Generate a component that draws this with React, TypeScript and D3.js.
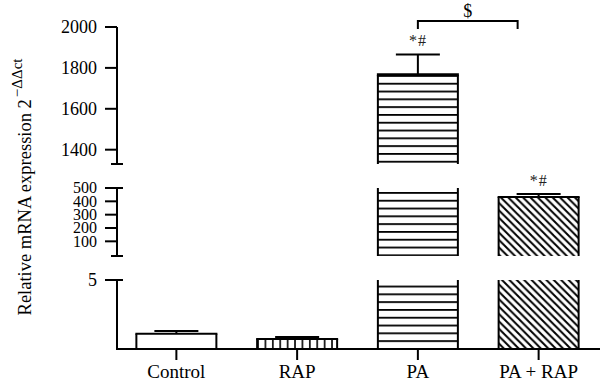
import React, { useEffect } from 'react';
import * as d3 from 'd3';

// groups and measured values (mean, upper error)
const groups = ['Control', 'RAP', 'PA', 'PA + RAP'];
const means = [1.1, 0.72, 1766, 432];
const errors = [0.2, 0.15, 100, 23];
const marks = ['', '', '*#', '*#'];

// broken y axis: three value windows, top to bottom
const segDomains: [number, number][] = [[1330, 2000], [-10, 500], [0, 5]];
const segTicks = [[1400, 1600, 1800, 2000], [100, 200, 300, 400, 500], [5]];

const W = 600;
const H = 390;
const axisX = 117;
const segRanges: [number, number][] = [[164, 27], [256, 188], [349, 280]];
const font = '"Liberation Serif", "Times New Roman", serif';

const x = d3.scalePoint<string>().domain(groups).range([116, 599]).padding(0.5);
const barW = 80;
const capW = 44;

const scales = segDomains.map((d, i) => d3.scaleLinear().domain(d).range(segRanges[i]));
const patterns = ['none', 'url(#vert)', 'url(#horiz)', 'url(#diag)'];

const App: React.FC = () => {
  useEffect(() => {
    document.body.style.margin = '0';
  }, []);

  return (
    <svg width={W} height={H} style={{ display: 'block', background: '#fff' }} fontFamily={font}>
      <defs>
        <pattern id="horiz" patternUnits="userSpaceOnUse" x={0} y={75} width={10} height={7.8}>
          <line x1={0} x2={10} y1={0.9} y2={0.9} stroke="#000" strokeWidth={1.8} />
        </pattern>
        <pattern id="vert" patternUnits="userSpaceOnUse" x={x('RAP')! - barW / 2} y={0} width={7.4} height={10}>
          <line x1={0.9} x2={0.9} y1={0} y2={10} stroke="#000" strokeWidth={1.6} />
        </pattern>
        <pattern id="diag" patternUnits="userSpaceOnUse" x={0} y={0} width={7.4} height={7.4}>
          <path d="M-1,-1 L8.4,8.4 M-1,6.4 L1,8.4 M6.4,-1 L8.4,1" stroke="#000" strokeWidth={2} />
        </pattern>
      </defs>

      {/* bars, drawn piecewise in each axis window */}
      {groups.map((g, gi) => {
        const cx = x(g)!;
        const x0 = cx - barW / 2;
        const x1 = cx + barW / 2;
        const v = means[gi];
        // the bottom window owns small values, others only values above them
        const ownSeg = v <= 5 ? 2 : segDomains.findIndex(d => v >= d[0] && v <= d[1]);
        return (
          <g key={g}>
            {scales.map((s, si) => {
              const [lo, hi] = segDomains[si];
              if (si < 2 && v <= 5) return null;
              if (v < lo) return null;
              const yTop = s(Math.min(v, hi));
              const yBot = s(lo);
              const isTop = si === ownSeg;
              return (
                <g key={si}>
                  <rect x={x0} y={yTop} width={barW} height={yBot - yTop} fill={patterns[gi] === 'none' ? '#fff' : patterns[gi]} />
                  <line x1={x0} x2={x0} y1={yTop} y2={yBot} stroke="#000" strokeWidth={2} />
                  <line x1={x1} x2={x1} y1={yTop} y2={yBot} stroke="#000" strokeWidth={2} />
                  {isTop && (
                    <line x1={x0 - 1} x2={x1 + 1} y1={yTop} y2={yTop} stroke="#000" strokeWidth={gi === 2 ? 3 : 2} />
                  )}
                </g>
              );
            })}
            {/* error bar */}
            {(() => {
              const s = scales[ownSeg];
              const yb = s(v);
              const ye = s(v + errors[gi]);
              return (
                <g stroke="#000" strokeWidth={2}>
                  <line x1={cx} x2={cx} y1={yb} y2={ye} />
                  <line x1={cx - capW / 2} x2={cx + capW / 2} y1={ye} y2={ye} />
                </g>
              );
            })()}
            {marks[gi] && (
              <text
                x={cx}
                y={scales[ownSeg](v + errors[gi]) - 8}
                textAnchor="middle"
                fontSize={16}
                letterSpacing={1}
                fill="#222"
              >
                {marks[gi]}
              </text>
            )}
          </g>
        );
      })}

      {/* y axis windows */}
      {scales.map((s, si) => {
        const [r0, r1] = segRanges[si];
        return (
          <g key={si}>
            <line x1={axisX} x2={axisX} y1={r0} y2={r1} stroke="#000" strokeWidth={2} />
            {segTicks[si].map(t => (
              <g key={t}>
                <line x1={axisX - 12} x2={axisX} y1={s(t)} y2={s(t)} stroke="#000" strokeWidth={2} />
                <text x={axisX - 20} y={s(t)} dy="0.33em" textAnchor="end" fontSize={si === 1 ? 16 : 18}>
                  {t}
                </text>
              </g>
            ))}
            {/* break marks */}
            {si < 2 && <line x1={axisX - 6} x2={axisX + 6} y1={r0} y2={r0} stroke="#000" strokeWidth={2} />}
            {si > 0 && <line x1={axisX - 6} x2={axisX + 6} y1={r1} y2={r1} stroke="#000" strokeWidth={2} />}
          </g>
        );
      })}

      {/* x axis */}
      <line x1={axisX - 1} x2={W} y1={segRanges[2][0]} y2={segRanges[2][0]} stroke="#000" strokeWidth={2} />
      {groups.map(g => (
        <g key={g}>
          <line x1={x(g)!} x2={x(g)!} y1={segRanges[2][0]} y2={segRanges[2][0] + 11} stroke="#000" strokeWidth={2} />
          <text x={x(g)!} y={378} textAnchor="middle" fontSize={19}>
            {g}
          </text>
        </g>
      ))}

      {/* significance bracket between PA and PA + RAP */}
      {(() => {
        const xa = x('PA')!;
        const xb = x('PA + RAP')! - 21;
        return (
          <g>
            <path d={`M${xa},29 V21 H${xb} V29`} fill="none" stroke="#000" strokeWidth={2} />
            <text x={(xa + xb) / 2} y={17} textAnchor="middle" fontSize={18}>$</text>
          </g>
        );
      })()}

      {/* y label */}
      <text transform="translate(31,187) rotate(-90)" textAnchor="middle" fontSize={18.5}>
        Relative mRNA expression 2
        <tspan fontSize={15} dx={2} dy={-9}>−ΔΔct</tspan>
      </text>
    </svg>
  );
};

export default App;
